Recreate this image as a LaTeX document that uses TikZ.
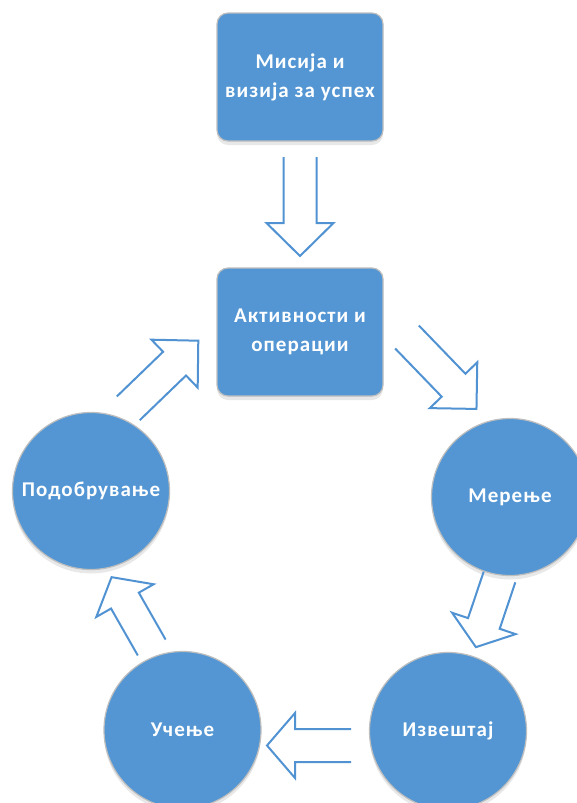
\documentclass[tikz,border=0pt]{standalone}
\usepackage{fontspec}
\setmainfont{Carlito}[LetterSpace=5]
\usetikzlibrary{shadows}
\definecolor{boxblue}{RGB}{83,150,211}
\definecolor{lineblue}{RGB}{80,146,210}
\definecolor{edgegrey}{RGB}{190,190,190}
\tikzset{
  base/.style={fill=boxblue, draw=edgegrey, line width=1.2pt, text=white,
    font=\fontsize{21}{29}\selectfont\bfseries, align=center,
    drop shadow={opacity=0.18, shadow xshift=0pt, shadow yshift=-4pt}},
  stepbox/.style={base, rectangle, rounded corners=11pt, minimum width=166pt, minimum height=128pt, inner sep=0pt},
  stagecirc/.style={base, circle, minimum size=157pt, inner sep=0pt},
  arrowline/.style={draw=lineblue, line width=2pt, line join=miter}
}
% #1 tail coordinate, #2 angle, #3 length, #4 head length, #5 head half width, #6 shaft half width
\newcommand{\blockarrow}[6]{%
  \begin{scope}[shift={(#1)}, rotate=#2]
    \draw[arrowline] (0,#6) -- ({#3-#4},#6) -- ({#3-#4},#5) -- (#3,0)
      -- ({#3-#4},-#5) -- ({#3-#4},-#6) -- (0,-#6);
  \end{scope}}
\begin{document}
\begin{tikzpicture}[x=1pt, y=-1pt]
\clip (0,0) rectangle (577,803);
\fill[white] (0,0) rectangle (577,803);
% nodes
\node[stepbox] (mission) at (300,77) {Мисија и\\визија за успех};
\node[stepbox] (activ) at (300,332) {Активности и\\операции};
\node[stagecirc] (meren) at (510,497) {Мерење};
\node[stagecirc] (izvest) at (448,731) {Извештај};
\node[stagecirc] (ucen) at (182.5,730) {Учење};
\node[stagecirc] (podob) at (91,491) {Подобрување};
% arrow tails
\coordinate (t1) at (300,157);
\coordinate (t2) at (407,337);
\coordinate (t3) at (499.5,577);
\coordinate (t4) at (351,745.5);
\coordinate (t5) at (151.7,647.5);
\coordinate (t6) at (128.3,408.3);
% block arrows
\blockarrow{t1}{-90}{99}{33}{33.5}{16.5}
\blockarrow{t2}{-46}{100}{33}{33}{16.5}
\blockarrow{t3}{-108.6}{74}{25}{33.5}{16.7}
\blockarrow{t4}{180}{84}{28}{32.5}{16.5}
\blockarrow{t5}{119.7}{81}{27}{33}{16}
\blockarrow{t6}{44}{97.3}{33}{33.3}{16.5}
\end{tikzpicture}
\end{document}
